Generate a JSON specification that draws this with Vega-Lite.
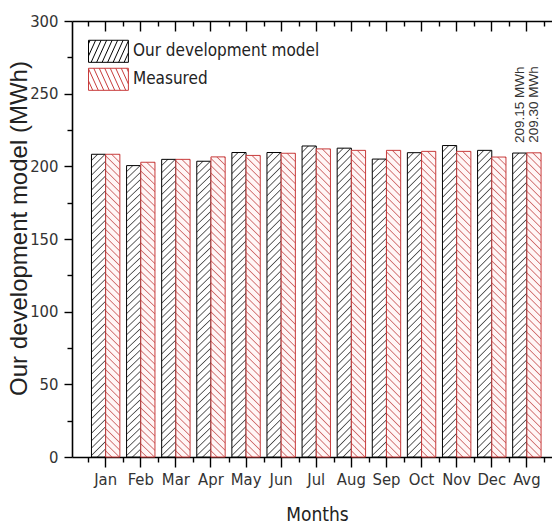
{
"$schema":"https://vega.github.io/schema/vega-lite/v6.json",
"width":480,"height":436,
"autosize":{"type":"none"},
"padding":{"left":72,"top":21,"right":0,"bottom":68},
"background":"white",
"config":{"view":{"stroke":null},"font":"Liberation Sans",
 "axis":{"domainColor":"#000","tickColor":"#000","domainWidth":1.6,"tickWidth":1.4,"grid":false,"labelColor":"#333","labelFont":"'DejaVu Sans Condensed', 'Liberation Sans', sans-serif","labelFontSize":16.5,"titleColor":"#222","titleFontWeight":"normal"}},
"data":{"values":[
{"month":"Jan","series":"Our development model","value":208.3},{"month":"Jan","series":"Measured","value":208.3},
{"month":"Feb","series":"Our development model","value":200.5},{"month":"Feb","series":"Measured","value":202.8},
{"month":"Mar","series":"Our development model","value":204.8},{"month":"Mar","series":"Measured","value":204.8},
{"month":"Apr","series":"Our development model","value":203.5},{"month":"Apr","series":"Measured","value":206.5},
{"month":"May","series":"Our development model","value":209.5},{"month":"May","series":"Measured","value":207.5},
{"month":"Jun","series":"Our development model","value":209.5},{"month":"Jun","series":"Measured","value":209.0},
{"month":"Jul","series":"Our development model","value":214.0},{"month":"Jul","series":"Measured","value":212.0},
{"month":"Aug","series":"Our development model","value":212.5},{"month":"Aug","series":"Measured","value":211.0},
{"month":"Sep","series":"Our development model","value":205.0},{"month":"Sep","series":"Measured","value":211.0},
{"month":"Oct","series":"Our development model","value":209.4},{"month":"Oct","series":"Measured","value":210.3},
{"month":"Nov","series":"Our development model","value":214.3},{"month":"Nov","series":"Measured","value":210.3},
{"month":"Dec","series":"Our development model","value":211.0},{"month":"Dec","series":"Measured","value":206.4},
{"month":"Avg","series":"Our development model","value":209.15,"label":"209.15 MWh"},{"month":"Avg","series":"Measured","value":209.30,"label":"209.30 MWh"}
]},
"layer":[
{"transform":[{"filter":"datum.series === 'Our development model'"}],
 "mark":{"type":"bar","strokeWidth":1,"stroke":"#000000","fill":{"gradient":"linear","x1":0,"y1":0,"x2":0.0513,"y2":1.1,"stops":[
{"offset":0,"color":"#fff"},
{"offset":0.015,"color":"#fff"},{"offset":0.0185,"color":"#4d4d4d"},{"offset":0.0221,"color":"#fff"},
{"offset":0.0371,"color":"#fff"},{"offset":0.0406,"color":"#4d4d4d"},{"offset":0.0442,"color":"#fff"},
{"offset":0.0592,"color":"#fff"},{"offset":0.0627,"color":"#4d4d4d"},{"offset":0.0663,"color":"#fff"},
{"offset":0.0813,"color":"#fff"},{"offset":0.0848,"color":"#4d4d4d"},{"offset":0.0884,"color":"#fff"},
{"offset":0.1034,"color":"#fff"},{"offset":0.1069,"color":"#4d4d4d"},{"offset":0.1105,"color":"#fff"},
{"offset":0.1255,"color":"#fff"},{"offset":0.129,"color":"#4d4d4d"},{"offset":0.1326,"color":"#fff"},
{"offset":0.1476,"color":"#fff"},{"offset":0.1511,"color":"#4d4d4d"},{"offset":0.1547,"color":"#fff"},
{"offset":0.1697,"color":"#fff"},{"offset":0.1732,"color":"#4d4d4d"},{"offset":0.1768,"color":"#fff"},
{"offset":0.1918,"color":"#fff"},{"offset":0.1953,"color":"#4d4d4d"},{"offset":0.1989,"color":"#fff"},
{"offset":0.2139,"color":"#fff"},{"offset":0.2174,"color":"#4d4d4d"},{"offset":0.221,"color":"#fff"},
{"offset":0.236,"color":"#fff"},{"offset":0.2395,"color":"#4d4d4d"},{"offset":0.2431,"color":"#fff"},
{"offset":0.2581,"color":"#fff"},{"offset":0.2616,"color":"#4d4d4d"},{"offset":0.2652,"color":"#fff"},
{"offset":0.2802,"color":"#fff"},{"offset":0.2837,"color":"#4d4d4d"},{"offset":0.2873,"color":"#fff"},
{"offset":0.3023,"color":"#fff"},{"offset":0.3058,"color":"#4d4d4d"},{"offset":0.3094,"color":"#fff"},
{"offset":0.3244,"color":"#fff"},{"offset":0.3279,"color":"#4d4d4d"},{"offset":0.3315,"color":"#fff"},
{"offset":0.3465,"color":"#fff"},{"offset":0.35,"color":"#4d4d4d"},{"offset":0.3536,"color":"#fff"},
{"offset":0.3686,"color":"#fff"},{"offset":0.3721,"color":"#4d4d4d"},{"offset":0.3757,"color":"#fff"},
{"offset":0.3907,"color":"#fff"},{"offset":0.3942,"color":"#4d4d4d"},{"offset":0.3978,"color":"#fff"},
{"offset":0.4128,"color":"#fff"},{"offset":0.4163,"color":"#4d4d4d"},{"offset":0.4199,"color":"#fff"},
{"offset":0.4349,"color":"#fff"},{"offset":0.4384,"color":"#4d4d4d"},{"offset":0.442,"color":"#fff"},
{"offset":0.457,"color":"#fff"},{"offset":0.4605,"color":"#4d4d4d"},{"offset":0.4641,"color":"#fff"},
{"offset":0.4791,"color":"#fff"},{"offset":0.4826,"color":"#4d4d4d"},{"offset":0.4862,"color":"#fff"},
{"offset":0.5012,"color":"#fff"},{"offset":0.5047,"color":"#4d4d4d"},{"offset":0.5083,"color":"#fff"},
{"offset":0.5233,"color":"#fff"},{"offset":0.5268,"color":"#4d4d4d"},{"offset":0.5304,"color":"#fff"},
{"offset":0.5454,"color":"#fff"},{"offset":0.5489,"color":"#4d4d4d"},{"offset":0.5525,"color":"#fff"},
{"offset":0.5675,"color":"#fff"},{"offset":0.571,"color":"#4d4d4d"},{"offset":0.5746,"color":"#fff"},
{"offset":0.5896,"color":"#fff"},{"offset":0.5931,"color":"#4d4d4d"},{"offset":0.5967,"color":"#fff"},
{"offset":0.6117,"color":"#fff"},{"offset":0.6152,"color":"#4d4d4d"},{"offset":0.6188,"color":"#fff"},
{"offset":0.6338,"color":"#fff"},{"offset":0.6373,"color":"#4d4d4d"},{"offset":0.6409,"color":"#fff"},
{"offset":0.6559,"color":"#fff"},{"offset":0.6594,"color":"#4d4d4d"},{"offset":0.663,"color":"#fff"},
{"offset":0.678,"color":"#fff"},{"offset":0.6815,"color":"#4d4d4d"},{"offset":0.6851,"color":"#fff"},
{"offset":0.7001,"color":"#fff"},{"offset":0.7036,"color":"#4d4d4d"},{"offset":0.7072,"color":"#fff"},
{"offset":0.7222,"color":"#fff"},{"offset":0.7257,"color":"#4d4d4d"},{"offset":0.7293,"color":"#fff"},
{"offset":0.7443,"color":"#fff"},{"offset":0.7478,"color":"#4d4d4d"},{"offset":0.7514,"color":"#fff"},
{"offset":0.7664,"color":"#fff"},{"offset":0.7699,"color":"#4d4d4d"},{"offset":0.7735,"color":"#fff"},
{"offset":0.7885,"color":"#fff"},{"offset":0.792,"color":"#4d4d4d"},{"offset":0.7956,"color":"#fff"},
{"offset":0.8106,"color":"#fff"},{"offset":0.8141,"color":"#4d4d4d"},{"offset":0.8177,"color":"#fff"},
{"offset":0.8327,"color":"#fff"},{"offset":0.8362,"color":"#4d4d4d"},{"offset":0.8398,"color":"#fff"},
{"offset":0.8548,"color":"#fff"},{"offset":0.8583,"color":"#4d4d4d"},{"offset":0.8619,"color":"#fff"},
{"offset":0.8769,"color":"#fff"},{"offset":0.8804,"color":"#4d4d4d"},{"offset":0.884,"color":"#fff"},
{"offset":0.899,"color":"#fff"},{"offset":0.9025,"color":"#4d4d4d"},{"offset":0.9061,"color":"#fff"},
{"offset":0.9211,"color":"#fff"},{"offset":0.9246,"color":"#4d4d4d"},{"offset":0.9282,"color":"#fff"},
{"offset":0.9432,"color":"#fff"},{"offset":0.9467,"color":"#4d4d4d"},{"offset":0.9503,"color":"#fff"},
{"offset":1,"color":"#fff"}]}},
 "encoding":{
  "x":{"field":"month","type":"nominal","scale":{"type":"band","domain":["Jan","Feb","Mar","Apr","May","Jun","Jul","Aug","Sep","Oct","Nov","Dec","Avg"],"paddingInner":0,"paddingOuter":0.3376,"align":0.68},
   "axis":{"orient":"bottom","tickSize":10,"labelPadding":4,"labelAngle":0,"title":"Months","titleFont":"'DejaVu Sans Condensed', 'Liberation Sans', sans-serif","titleFontSize":19,"titleX":245,"titleY":63,"titleBaseline":"alphabetic"}},
  "xOffset":{"field":"series","type":"nominal","scale":{"type":"band","domain":["Our development model","Measured"],"paddingInner":0,"paddingOuter":0.236}},
  "y":{"field":"value","type":"quantitative","scale":{"domain":[0,300],"nice":false,"zero":true},
   "axis":{"orient":"left","values":[0,50,100,150,200,250,300],"tickSize":8,"labelPadding":6,"title":"Our development model (MWh)","titleFont":"Liberation Sans","titleFontSize":24,"titleX":-46,"titleY":207,"titleBaseline":"alphabetic","titleAngle":-90}}
 }},
{"transform":[{"filter":"datum.series === 'Measured'"}],
 "mark":{"type":"bar","strokeWidth":1,"stroke":"#c83c3c","fill":{"gradient":"linear","x1":0,"y1":1,"x2":0.0513,"y2":-0.1,"stops":[
{"offset":0,"color":"#fff6f6"},
{"offset":0.015,"color":"#fff6f6"},{"offset":0.0185,"color":"#cf6b6b"},{"offset":0.0221,"color":"#fff6f6"},
{"offset":0.0371,"color":"#fff6f6"},{"offset":0.0406,"color":"#cf6b6b"},{"offset":0.0442,"color":"#fff6f6"},
{"offset":0.0592,"color":"#fff6f6"},{"offset":0.0627,"color":"#cf6b6b"},{"offset":0.0663,"color":"#fff6f6"},
{"offset":0.0813,"color":"#fff6f6"},{"offset":0.0848,"color":"#cf6b6b"},{"offset":0.0884,"color":"#fff6f6"},
{"offset":0.1034,"color":"#fff6f6"},{"offset":0.1069,"color":"#cf6b6b"},{"offset":0.1105,"color":"#fff6f6"},
{"offset":0.1255,"color":"#fff6f6"},{"offset":0.129,"color":"#cf6b6b"},{"offset":0.1326,"color":"#fff6f6"},
{"offset":0.1476,"color":"#fff6f6"},{"offset":0.1511,"color":"#cf6b6b"},{"offset":0.1547,"color":"#fff6f6"},
{"offset":0.1697,"color":"#fff6f6"},{"offset":0.1732,"color":"#cf6b6b"},{"offset":0.1768,"color":"#fff6f6"},
{"offset":0.1918,"color":"#fff6f6"},{"offset":0.1953,"color":"#cf6b6b"},{"offset":0.1989,"color":"#fff6f6"},
{"offset":0.2139,"color":"#fff6f6"},{"offset":0.2174,"color":"#cf6b6b"},{"offset":0.221,"color":"#fff6f6"},
{"offset":0.236,"color":"#fff6f6"},{"offset":0.2395,"color":"#cf6b6b"},{"offset":0.2431,"color":"#fff6f6"},
{"offset":0.2581,"color":"#fff6f6"},{"offset":0.2616,"color":"#cf6b6b"},{"offset":0.2652,"color":"#fff6f6"},
{"offset":0.2802,"color":"#fff6f6"},{"offset":0.2837,"color":"#cf6b6b"},{"offset":0.2873,"color":"#fff6f6"},
{"offset":0.3023,"color":"#fff6f6"},{"offset":0.3058,"color":"#cf6b6b"},{"offset":0.3094,"color":"#fff6f6"},
{"offset":0.3244,"color":"#fff6f6"},{"offset":0.3279,"color":"#cf6b6b"},{"offset":0.3315,"color":"#fff6f6"},
{"offset":0.3465,"color":"#fff6f6"},{"offset":0.35,"color":"#cf6b6b"},{"offset":0.3536,"color":"#fff6f6"},
{"offset":0.3686,"color":"#fff6f6"},{"offset":0.3721,"color":"#cf6b6b"},{"offset":0.3757,"color":"#fff6f6"},
{"offset":0.3907,"color":"#fff6f6"},{"offset":0.3942,"color":"#cf6b6b"},{"offset":0.3978,"color":"#fff6f6"},
{"offset":0.4128,"color":"#fff6f6"},{"offset":0.4163,"color":"#cf6b6b"},{"offset":0.4199,"color":"#fff6f6"},
{"offset":0.4349,"color":"#fff6f6"},{"offset":0.4384,"color":"#cf6b6b"},{"offset":0.442,"color":"#fff6f6"},
{"offset":0.457,"color":"#fff6f6"},{"offset":0.4605,"color":"#cf6b6b"},{"offset":0.4641,"color":"#fff6f6"},
{"offset":0.4791,"color":"#fff6f6"},{"offset":0.4826,"color":"#cf6b6b"},{"offset":0.4862,"color":"#fff6f6"},
{"offset":0.5012,"color":"#fff6f6"},{"offset":0.5047,"color":"#cf6b6b"},{"offset":0.5083,"color":"#fff6f6"},
{"offset":0.5233,"color":"#fff6f6"},{"offset":0.5268,"color":"#cf6b6b"},{"offset":0.5304,"color":"#fff6f6"},
{"offset":0.5454,"color":"#fff6f6"},{"offset":0.5489,"color":"#cf6b6b"},{"offset":0.5525,"color":"#fff6f6"},
{"offset":0.5675,"color":"#fff6f6"},{"offset":0.571,"color":"#cf6b6b"},{"offset":0.5746,"color":"#fff6f6"},
{"offset":0.5896,"color":"#fff6f6"},{"offset":0.5931,"color":"#cf6b6b"},{"offset":0.5967,"color":"#fff6f6"},
{"offset":0.6117,"color":"#fff6f6"},{"offset":0.6152,"color":"#cf6b6b"},{"offset":0.6188,"color":"#fff6f6"},
{"offset":0.6338,"color":"#fff6f6"},{"offset":0.6373,"color":"#cf6b6b"},{"offset":0.6409,"color":"#fff6f6"},
{"offset":0.6559,"color":"#fff6f6"},{"offset":0.6594,"color":"#cf6b6b"},{"offset":0.663,"color":"#fff6f6"},
{"offset":0.678,"color":"#fff6f6"},{"offset":0.6815,"color":"#cf6b6b"},{"offset":0.6851,"color":"#fff6f6"},
{"offset":0.7001,"color":"#fff6f6"},{"offset":0.7036,"color":"#cf6b6b"},{"offset":0.7072,"color":"#fff6f6"},
{"offset":0.7222,"color":"#fff6f6"},{"offset":0.7257,"color":"#cf6b6b"},{"offset":0.7293,"color":"#fff6f6"},
{"offset":0.7443,"color":"#fff6f6"},{"offset":0.7478,"color":"#cf6b6b"},{"offset":0.7514,"color":"#fff6f6"},
{"offset":0.7664,"color":"#fff6f6"},{"offset":0.7699,"color":"#cf6b6b"},{"offset":0.7735,"color":"#fff6f6"},
{"offset":0.7885,"color":"#fff6f6"},{"offset":0.792,"color":"#cf6b6b"},{"offset":0.7956,"color":"#fff6f6"},
{"offset":0.8106,"color":"#fff6f6"},{"offset":0.8141,"color":"#cf6b6b"},{"offset":0.8177,"color":"#fff6f6"},
{"offset":0.8327,"color":"#fff6f6"},{"offset":0.8362,"color":"#cf6b6b"},{"offset":0.8398,"color":"#fff6f6"},
{"offset":0.8548,"color":"#fff6f6"},{"offset":0.8583,"color":"#cf6b6b"},{"offset":0.8619,"color":"#fff6f6"},
{"offset":0.8769,"color":"#fff6f6"},{"offset":0.8804,"color":"#cf6b6b"},{"offset":0.884,"color":"#fff6f6"},
{"offset":0.899,"color":"#fff6f6"},{"offset":0.9025,"color":"#cf6b6b"},{"offset":0.9061,"color":"#fff6f6"},
{"offset":0.9211,"color":"#fff6f6"},{"offset":0.9246,"color":"#cf6b6b"},{"offset":0.9282,"color":"#fff6f6"},
{"offset":0.9432,"color":"#fff6f6"},{"offset":0.9467,"color":"#cf6b6b"},{"offset":0.9503,"color":"#fff6f6"},
{"offset":1,"color":"#fff6f6"}]}},
 "encoding":{
  "x":{"field":"month","type":"nominal","scale":{"type":"band","domain":["Jan","Feb","Mar","Apr","May","Jun","Jul","Aug","Sep","Oct","Nov","Dec","Avg"],"paddingInner":0,"paddingOuter":0.3376,"align":0.68},
   "axis":{"orient":"bottom","tickBand":"extent","tickSize":5,"labels":false,"domain":false,"title":null}},
  "xOffset":{"field":"series","type":"nominal","scale":{"type":"band","domain":["Our development model","Measured"],"paddingInner":0,"paddingOuter":0.236}},
  "y":{"field":"value","type":"quantitative","scale":{"domain":[0,300],"nice":false,"zero":true},
   "axis":{"orient":"left","values":[25,75,125,175,225,275],"tickSize":5,"labels":false,"domain":false,"title":null}}
 }},
{"transform":[{"filter":"isValid(datum.label)"}],
 "mark":{"type":"text","angle":270,"align":"left","baseline":"middle","dx":10,"font":"Liberation Sans","fontSize":13.5,"color":"#333"},
 "encoding":{
  "x":{"field":"month","type":"nominal","scale":{"type":"band","domain":["Jan","Feb","Mar","Apr","May","Jun","Jul","Aug","Sep","Oct","Nov","Dec","Avg"],"paddingInner":0,"paddingOuter":0.3376,"align":0.68},
   "axis":{"orient":"top","tickSize":-10,"labels":false,"title":null,"domain":true}},
  "xOffset":{"field":"series","type":"nominal","scale":{"type":"band","domain":["Our development model","Measured"],"paddingInner":0,"paddingOuter":0.236}},
  "y":{"field":"value","type":"quantitative","scale":{"domain":[0,300],"nice":false,"zero":true},"axis":null},
  "text":{"field":"label","type":"nominal"}
 }},
{"mark":{"type":"point","opacity":0,"filled":false,"strokeWidth":1,"size":441},
 "encoding":{
  "x":{"field":"month","type":"nominal","scale":{"type":"band","domain":["Jan","Feb","Mar","Apr","May","Jun","Jul","Aug","Sep","Oct","Nov","Dec","Avg"],"paddingInner":0,"paddingOuter":0.3376,"align":0.68},
   "axis":{"orient":"top","tickBand":"extent","tickSize":-5,"labels":false,"domain":false,"title":null}},
  "xOffset":{"field":"series","type":"nominal","scale":{"type":"band","domain":["Our development model","Measured"],"paddingInner":0,"paddingOuter":0.236}},
  "y":{"field":"value","type":"quantitative","scale":{"domain":[0,300],"nice":false,"zero":true},"axis":null},
  "stroke":{"field":"series","type":"nominal","scale":{"domain":["Our development model","Measured"],"range":["#000000","#c83c3c"]},
   "legend":{"title":null,"orient":"none","legendX":25.45,"legendY":19.3,"symbolSize":441,"symbolOpacity":1,"symbolStrokeWidth":1,"labelOffset":13.5,"labelFont":"'DejaVu Sans Condensed', 'Liberation Sans', sans-serif","labelFontSize":17,"labelColor":"#222","rowPadding":0,"padding":0,"labelLimit":400}},
  "shape":{"field":"series","type":"nominal","scale":{"domain":["Our development model","Measured"],"range":["M-1.9,-1.05H1.9V1.05H-1.9Z M-1.9,-0.71L-1.746,-1.05 M-1.9,0.446L-1.222,-1.05 M-1.65,1.05L-0.698,-1.05 M-1.126,1.05L-0.174,-1.05 M-0.602,1.05L0.35,-1.05 M-0.078,1.05L0.874,-1.05 M0.446,1.05L1.398,-1.05 M0.97,1.05L1.9,-1.002 M1.494,1.05L1.9,0.154","M-1.9,-1.05H1.9V1.05H-1.9Z M1.9,-0.71L1.746,-1.05 M1.9,0.446L1.222,-1.05 M1.65,1.05L0.698,-1.05 M1.126,1.05L0.174,-1.05 M0.602,1.05L-0.35,-1.05 M0.078,1.05L-0.874,-1.05 M-0.446,1.05L-1.398,-1.05 M-0.97,1.05L-1.9,-1.002 M-1.494,1.05L-1.9,0.154"]},
   "legend":{"title":null,"orient":"none","legendX":25.45,"legendY":19.3,"symbolSize":441,"symbolOpacity":1,"symbolStrokeWidth":1,"labelOffset":13.5,"labelFont":"'DejaVu Sans Condensed', 'Liberation Sans', sans-serif","labelFontSize":17,"labelColor":"#222","rowPadding":0,"padding":0,"labelLimit":400}}
 }}
],
"resolve":{"axis":{"x":"independent","y":"independent"}}
}
